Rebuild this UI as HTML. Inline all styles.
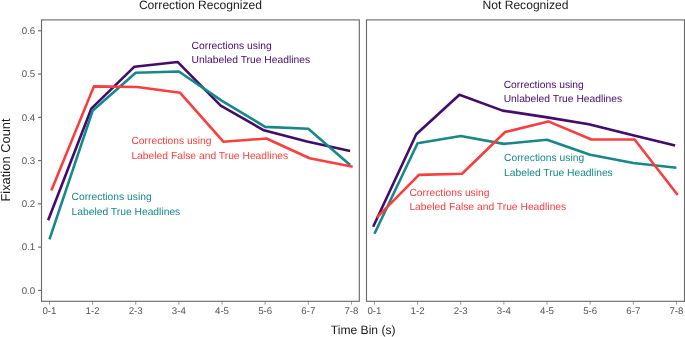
<!DOCTYPE html>
<html><head><meta charset="utf-8"><style>
html,body{margin:0;padding:0;background:#fff;}
body{width:685px;height:337px;overflow:hidden;}
svg{display:block;font-family:"Liberation Sans",sans-serif;text-rendering:geometricPrecision;will-change:transform;}
</style></head><body>
<svg width="685" height="337" viewBox="0 0 685 337">
<rect width="685" height="337" fill="#fff"/>

<text x="200.40" y="8.6" font-size="12.1" fill="#1a1a1a" text-anchor="middle">Correction Recognized</text>
<text x="525.50" y="8.6" font-size="12.1" fill="#1a1a1a" text-anchor="middle">Not Recognized</text>
<text x="363.2" y="334" font-size="12.1" fill="#1a1a1a" text-anchor="middle">Time Bin (s)</text>
<text transform="translate(9.8,160) rotate(-90)" font-size="12.9" fill="#1a1a1a" text-anchor="middle">Fixation Count</text>
<line x1="38.0" x2="41.5" y1="290.40" y2="290.40" stroke="#6a6a6a" stroke-width="1.1"/>
<text x="35.2" y="293.60" font-size="9.7" fill="#555" text-anchor="end">0.0</text>
<line x1="38.0" x2="41.5" y1="247.13" y2="247.13" stroke="#6a6a6a" stroke-width="1.1"/>
<text x="35.2" y="250.33" font-size="9.7" fill="#555" text-anchor="end">0.1</text>
<line x1="38.0" x2="41.5" y1="203.86" y2="203.86" stroke="#6a6a6a" stroke-width="1.1"/>
<text x="35.2" y="207.06" font-size="9.7" fill="#555" text-anchor="end">0.2</text>
<line x1="38.0" x2="41.5" y1="160.59" y2="160.59" stroke="#6a6a6a" stroke-width="1.1"/>
<text x="35.2" y="163.79" font-size="9.7" fill="#555" text-anchor="end">0.3</text>
<line x1="38.0" x2="41.5" y1="117.32" y2="117.32" stroke="#6a6a6a" stroke-width="1.1"/>
<text x="35.2" y="120.52" font-size="9.7" fill="#555" text-anchor="end">0.4</text>
<line x1="38.0" x2="41.5" y1="74.05" y2="74.05" stroke="#6a6a6a" stroke-width="1.1"/>
<text x="35.2" y="77.25" font-size="9.7" fill="#555" text-anchor="end">0.5</text>
<line x1="38.0" x2="41.5" y1="30.78" y2="30.78" stroke="#6a6a6a" stroke-width="1.1"/>
<text x="35.2" y="33.98" font-size="9.7" fill="#555" text-anchor="end">0.6</text>
<line x1="49.45" x2="49.45" y1="301.3" y2="304.60" stroke="#999" stroke-width="1"/>
<text x="49.45" y="314.3" font-size="9.7" fill="#555" text-anchor="middle">0-1</text>
<line x1="92.59" x2="92.59" y1="301.3" y2="304.60" stroke="#999" stroke-width="1"/>
<text x="92.59" y="314.3" font-size="9.7" fill="#555" text-anchor="middle">1-2</text>
<line x1="135.73" x2="135.73" y1="301.3" y2="304.60" stroke="#999" stroke-width="1"/>
<text x="135.73" y="314.3" font-size="9.7" fill="#555" text-anchor="middle">2-3</text>
<line x1="178.87" x2="178.87" y1="301.3" y2="304.60" stroke="#999" stroke-width="1"/>
<text x="178.87" y="314.3" font-size="9.7" fill="#555" text-anchor="middle">3-4</text>
<line x1="222.01" x2="222.01" y1="301.3" y2="304.60" stroke="#999" stroke-width="1"/>
<text x="222.01" y="314.3" font-size="9.7" fill="#555" text-anchor="middle">4-5</text>
<line x1="265.15" x2="265.15" y1="301.3" y2="304.60" stroke="#999" stroke-width="1"/>
<text x="265.15" y="314.3" font-size="9.7" fill="#555" text-anchor="middle">5-6</text>
<line x1="308.29" x2="308.29" y1="301.3" y2="304.60" stroke="#999" stroke-width="1"/>
<text x="308.29" y="314.3" font-size="9.7" fill="#555" text-anchor="middle">6-7</text>
<line x1="351.43" x2="351.43" y1="301.3" y2="304.60" stroke="#999" stroke-width="1"/>
<text x="351.43" y="314.3" font-size="9.7" fill="#555" text-anchor="middle">7-8</text>
<line x1="374.45" x2="374.45" y1="301.3" y2="304.60" stroke="#999" stroke-width="1"/>
<text x="374.45" y="314.3" font-size="9.7" fill="#555" text-anchor="middle">0-1</text>
<line x1="417.59" x2="417.59" y1="301.3" y2="304.60" stroke="#999" stroke-width="1"/>
<text x="417.59" y="314.3" font-size="9.7" fill="#555" text-anchor="middle">1-2</text>
<line x1="460.73" x2="460.73" y1="301.3" y2="304.60" stroke="#999" stroke-width="1"/>
<text x="460.73" y="314.3" font-size="9.7" fill="#555" text-anchor="middle">2-3</text>
<line x1="503.87" x2="503.87" y1="301.3" y2="304.60" stroke="#999" stroke-width="1"/>
<text x="503.87" y="314.3" font-size="9.7" fill="#555" text-anchor="middle">3-4</text>
<line x1="547.01" x2="547.01" y1="301.3" y2="304.60" stroke="#999" stroke-width="1"/>
<text x="547.01" y="314.3" font-size="9.7" fill="#555" text-anchor="middle">4-5</text>
<line x1="590.15" x2="590.15" y1="301.3" y2="304.60" stroke="#999" stroke-width="1"/>
<text x="590.15" y="314.3" font-size="9.7" fill="#555" text-anchor="middle">5-6</text>
<line x1="633.29" x2="633.29" y1="301.3" y2="304.60" stroke="#999" stroke-width="1"/>
<text x="633.29" y="314.3" font-size="9.7" fill="#555" text-anchor="middle">6-7</text>
<line x1="676.43" x2="676.43" y1="301.3" y2="304.60" stroke="#999" stroke-width="1"/>
<text x="676.43" y="314.3" font-size="9.7" fill="#555" text-anchor="middle">7-8</text>
<polyline points="48.15,220.30 91.29,108.67 134.43,66.69 177.57,61.93 220.71,105.64 263.85,130.30 306.99,141.55 350.13,151.07" fill="none" stroke="#440a6e" stroke-width="2.6" stroke-linejoin="round" stroke-linecap="butt"/>
<polyline points="49.45,239.34 92.59,110.83 135.73,72.75 178.87,71.45 222.01,100.88 265.15,126.84 308.29,128.70 350.13,164.92" fill="none" stroke="#15898a" stroke-width="2.6" stroke-linejoin="round" stroke-linecap="butt"/>
<polyline points="51.35,190.45 93.89,86.38 137.03,87.03 180.17,92.79 223.31,141.68 266.45,138.52 309.59,158.21 352.73,166.78" fill="none" stroke="#fb3d3d" stroke-width="2.6" stroke-linejoin="round" stroke-linecap="butt"/>
<polyline points="373.15,226.79 416.29,134.20 459.43,94.82 502.57,110.61 545.71,117.10 588.85,124.24 631.99,135.06 675.13,145.45" fill="none" stroke="#440a6e" stroke-width="2.6" stroke-linejoin="round" stroke-linecap="butt"/>
<polyline points="374.45,233.72 417.59,143.28 460.73,135.93 503.87,143.89 547.01,139.82 590.15,154.71 633.29,163.01 676.43,167.69" fill="none" stroke="#15898a" stroke-width="2.6" stroke-linejoin="round" stroke-linecap="butt"/>
<polyline points="376.75,217.71 418.89,174.87 462.03,173.79 505.17,132.03 548.31,121.39 591.45,139.52 634.59,139.52 677.73,194.99" fill="none" stroke="#fb3d3d" stroke-width="2.6" stroke-linejoin="round" stroke-linecap="butt"/>
<rect x="41.5" y="19.9" width="317.80" height="281.40" fill="none" stroke="#666" stroke-width="1.1"/>
<rect x="366.5" y="19.9" width="318.00" height="281.40" fill="none" stroke="#666" stroke-width="1.1"/>
<text x="191.6" y="48.8" font-size="10.3" fill="#440a6e">Corrections using</text>
<text x="191.6" y="63.3" font-size="10.3" fill="#440a6e">Unlabeled True Headlines</text>
<text x="131.4" y="144.0" font-size="10.3" fill="#fb3d3d">Corrections using</text>
<text x="131.4" y="158.6" font-size="10.3" fill="#fb3d3d">Labeled False and True Headlines</text>
<text x="71.5" y="200.2" font-size="10.3" fill="#15898a">Corrections using</text>
<text x="71.5" y="214.8" font-size="10.3" fill="#15898a">Labeled True Headlines</text>
<text x="503.7" y="87.6" font-size="10.3" fill="#440a6e">Corrections using</text>
<text x="503.7" y="102.2" font-size="10.3" fill="#440a6e">Unlabeled True Headlines</text>
<text x="504.0" y="160.9" font-size="10.3" fill="#15898a">Corrections using</text>
<text x="504.0" y="175.6" font-size="10.3" fill="#15898a">Labeled True Headlines</text>
<text x="409.4" y="195.7" font-size="10.3" fill="#fb3d3d">Corrections using</text>
<text x="409.4" y="210.2" font-size="10.3" fill="#fb3d3d">Labeled False and True Headlines</text>
</svg></body></html>
